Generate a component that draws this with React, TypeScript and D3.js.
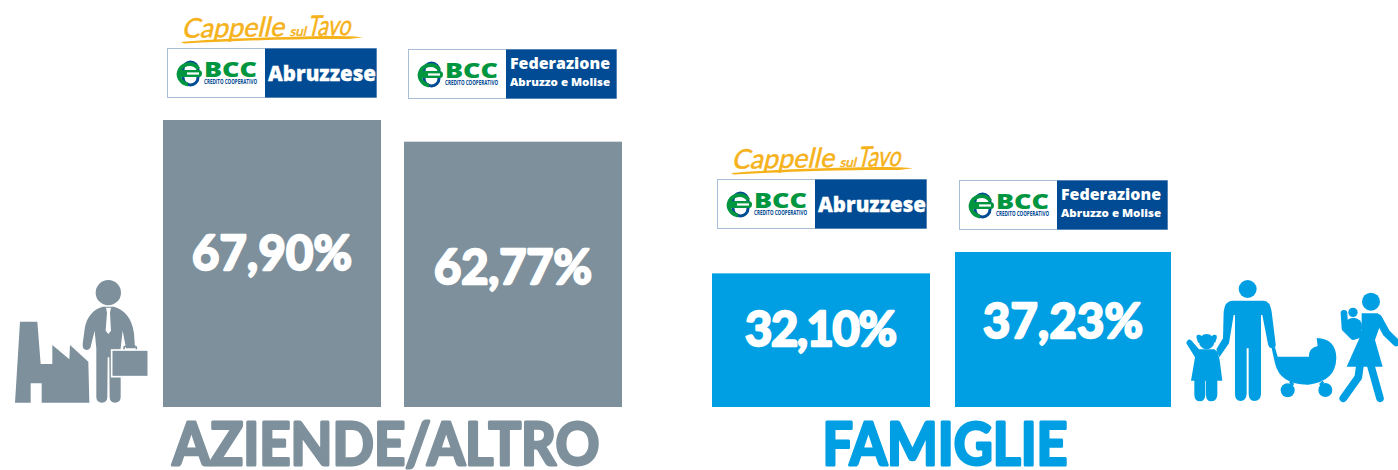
import React from "react";
import * as d3 from "d3";

const panelTitles = ["AZIENDE/ALTRO", "FAMIGLIE"];
const bankNames = ["Abruzzese", "Federazione"];
const bankSub = "Abruzzo e Molise";
const creditText = "CREDITO COOPERATIVO";
const aziendeValues = [67.9, 62.77];
const famiglieValues = [32.1, 37.23];
const signatureParts = ["Cappelle", "sul", "Tavo"];

const GREY = "#7d909c";
const BLUE = "#009fe3";
const NAVY = "#004b93";
const GREEN = "#009640";
const GOLD = "#f5b21a";
const FONT = "Lato, 'Open Sans', sans-serif";
const BASE = 407;

const yA = d3.scaleLinear().domain([0, 67.9]).range([BASE, 120]);
const yF = d3.scaleLinear().domain([0, 37.23]).range([BASE, 252]);
const xA = d3.scaleOrdinal<number, number>().domain([0, 1]).range([163, 404]);
const xF = d3.scaleOrdinal<number, number>().domain([0, 1]).range([712, 955]);
const wA = d3.scaleOrdinal<number, number>().domain([0, 1]).range([218, 218]);
const wF = d3.scaleOrdinal<number, number>().domain([0, 1]).range([218, 216]);
const pct = (v: number) => d3.format(".2f")(v).replace(".", ",") + "%";

function Logo({ x, yy, kind }: { x: number; yy: number; kind: number }) {
  const split = 98;
  const w = kind === 0 ? 210 : 209;
  return (
    <g transform={`translate(${x},${yy})`}>
      <rect x={0.5} y={0.5} width={w - 1} height={49} fill="#fff" stroke="#a9bdd6" strokeWidth={1} />
      <rect x={split} y={0.5} width={w - split - 0.5} height={49} fill={NAVY} />
      {/* interlocked mark */}
      <rect x={16} y={14} width={15} height={23} rx={7.5} fill="none" stroke={NAVY} strokeWidth={3} />
      <path d="M31.5 21A11 11 0 0 0 11.5 25.5A11 11 0 0 0 21 36.5" fill="none" stroke={GREEN} strokeWidth={3.8} />
      <rect x={10} y={22} width={25} height={7} rx={3.5} fill={GREEN} />
      <rect x={20} y={24.4} width={12} height={2.2} fill="#fff" />
      <text x={37} y={29} fontFamily="'Open Sans', sans-serif" fontWeight={800} fontSize={21} fill={GREEN} textLength={53} lengthAdjust="spacingAndGlyphs">BCC</text>
      <text x={37} y={36} fontFamily="'Liberation Sans Narrow', 'Open Sans', sans-serif" fontWeight={700} fontSize={6.6} fill={NAVY} textLength={53} lengthAdjust="spacingAndGlyphs">{creditText}</text>
      {kind === 0 ? (
        <text x={101} y={33} fontFamily="'Open Sans', sans-serif" fontWeight={800} fontSize={21.5} fill="#fff" stroke="#fff" strokeWidth={0.3} textLength={108} lengthAdjust="spacingAndGlyphs">{bankNames[0]}</text>
      ) : (
        <g fill="#fff" fontFamily="'Open Sans', sans-serif" fontWeight={800}>
          <text x={102} y={20} fontSize={15.5} textLength={100} lengthAdjust="spacingAndGlyphs">{bankNames[1]}</text>
          <text x={102} y={37} fontSize={11} textLength={100} lengthAdjust="spacingAndGlyphs">{bankSub}</text>
        </g>
      )}
    </g>
  );
}

function Signature({ x, yy }: { x: number; yy: number }) {
  return (
    <g transform={`translate(${x},${yy})`}>
      <g transform="skewX(-14) rotate(-1)">
        <text fontFamily="Lato, sans-serif" fontWeight={400} fill={GOLD} stroke={GOLD} strokeWidth={0.5} strokeLinejoin="round">
          <tspan x={8} y={24} fontSize={27} textLength={102} lengthAdjust="spacingAndGlyphs">{signatureParts[0]}</tspan>
          <tspan x={112} y={24} fontSize={13} textLength={20} lengthAdjust="spacingAndGlyphs"> {signatureParts[1]}</tspan>
          <tspan x={128} y={24} fontSize={28} textLength={48} lengthAdjust="spacingAndGlyphs"> {signatureParts[2]}</tspan>
        </text>
      </g>
      <path d="M2 28C40 24.5 110 22.5 150 22C165 22 178 22.5 184 23.3L170 25C120 24.5 60 26.5 5 29.5Z" fill={GOLD} />
    </g>
  );
}

function Business() {
  return (
    <g transform="translate(0,270) scale(0.3333)" fill={GREY}>
      <path d="M45 398L60 155L112 155L122 282L157 282L157 225L208 268L210 225L265 275L268 398L125 398L125 340L92 340L92 398Z" />
      <circle cx={325} cy={68} r={38} />
      <path d="M308 110C280 118 262 140 255 170L248 222Q247 240 260 240Q272 240 274 222L284 182L289 235L289 382Q290 398 306 398Q321 398 322 382L323 262L328 262L329 382Q330 398 345 398Q361 398 362 382L362 235L368 182L378 235L405 235L402 190C396 145 375 120 342 110Z" />
      <path d="M318 113H333L330 128L333 182L325 192L317 182L321 128Z" fill="#fff" />
      <rect x={335} y={240} width={110} height={80} stroke="#fff" strokeWidth={5} />
      <path d="M372 238V233Q372 229 377 229H404Q409 229 409 233V238" fill="none" stroke={GREY} strokeWidth={5} />
    </g>
  );
}

function Family() {
  return (
    <g transform="translate(1175,270) scale(0.3333)" fill={BLUE}>
      {/* father */}
      <circle cx={218} cy={57} r={27} />
      <path d="M172 92H266Q285 92 290 125L302 222Q303 235 292 235Q282 235 279 222L262 135L258 135L258 372Q257 393 238 393Q222 393 221 372L221 235L215 235L215 372Q213 393 197 393Q180 393 180 372L180 135L176 135L162 220L133 262L124 238L144 205L146 125Q150 92 172 92Z" />
      {/* girl */}
      <circle cx={95} cy={215} r={23} />
      <path d="M66 208Q60 192 76 195L82 202L70 220ZM124 208Q130 192 114 195L108 202L120 220Z" />
      <path d="M34 220Q38 203 50 212L72 238H118L128 246L134 270L142 332H127V375Q125 394 108 394Q94 394 93 375V332H91V375Q89 394 75 394Q59 394 58 375V332H48L60 262Z" />
      {/* pram */}
      <path d="M290 235L300 232L308 260H402Q400 235 428 228L425 204Q483 205 484 265Q482 335 400 344Q315 345 300 280Z" />
      <circle cx={338} cy={361} r={21} />
      <circle cx={451} cy={360} r={21} />
      <path d="M345 335L355 345M445 335L435 345" stroke={BLUE} strokeWidth={8} />
      {/* mother */}
      <circle cx={588} cy={95} r={27} />
      <circle cx={534} cy={127} r={14} />
      <circle cx={535} cy={170} r={27} />
      <path d="M560 130H608L623 145L600 210L623 290H515L560 190Z" />
      <path d="M610 145L635 190L663 217" fill="none" stroke={BLUE} strokeWidth={23} strokeLinecap="round" strokeLinejoin="round" />
      <path d="M507 130L510 175L535 200L565 190" fill="none" stroke={BLUE} strokeWidth={20} strokeLinecap="round" strokeLinejoin="round" />
      <path d="M555 285L550 322L505 385M587 285L615 385" fill="none" stroke={BLUE} strokeWidth={23} strokeLinecap="round" strokeLinejoin="round" />
    </g>
  );
}

function Bars({ values, x, w, y, color }: { values: number[]; x: any; w: any; y: any; color: string }) {
  return (
    <g>
      {values.map((v, i) => (
        <rect key={i} x={x(i)} y={y(v)} width={w(i)} height={y(0) - y(v)} fill={color} />
      ))}
    </g>
  );
}

export default function App() {
  return (
    <svg width={1398} height={470} style={{ position: "absolute", left: 0, top: 0, background: "#fff" }}>
      <Bars values={aziendeValues} x={xA} w={wA} y={yA} color={GREY} />
      <Bars values={famiglieValues} x={xF} w={wF} y={yF} color={BLUE} />
      <g fontFamily={FONT} fontWeight={700} fontSize={47} fill="#fff" textAnchor="middle" stroke="#fff" strokeWidth={2.4} strokeLinejoin="round">
        <text x={xA(0) + wA(0) / 2} y={270} textLength={160} lengthAdjust="spacing">{pct(aziendeValues[0])}</text>
        <text x={xA(1) + wA(1) / 2} y={284} textLength={158} lengthAdjust="spacing">{pct(aziendeValues[1])}</text>
        <text x={xF(0) + wF(0) / 2} y={346} textLength={152} lengthAdjust="spacing">{pct(famiglieValues[0])}</text>
        <text x={xF(1) + wF(1) / 2} y={338} textLength={160} lengthAdjust="spacing">{pct(famiglieValues[1])}</text>
      </g>
      <g fontFamily={FONT} fontWeight={700} fontSize={59} textAnchor="middle" strokeWidth={3} strokeLinejoin="round">
        <text x={386} y={464.5} fill={GREY} stroke={GREY} textLength={427} lengthAdjust="spacingAndGlyphs">{panelTitles[0]}</text>
        <text x={945} y={464.5} fill={BLUE} stroke={BLUE} textLength={245} lengthAdjust="spacingAndGlyphs">{panelTitles[1]}</text>
      </g>
      <Signature x={179} yy={14} />
      <Logo x={167} yy={48} kind={0} />
      <Logo x={408} yy={49} kind={1} />
      <Signature x={729} yy={145} />
      <Logo x={717} yy={179} kind={0} />
      <Logo x={959} yy={180} kind={1} />
      <Business />
      <Family />
    </svg>
  );
}
